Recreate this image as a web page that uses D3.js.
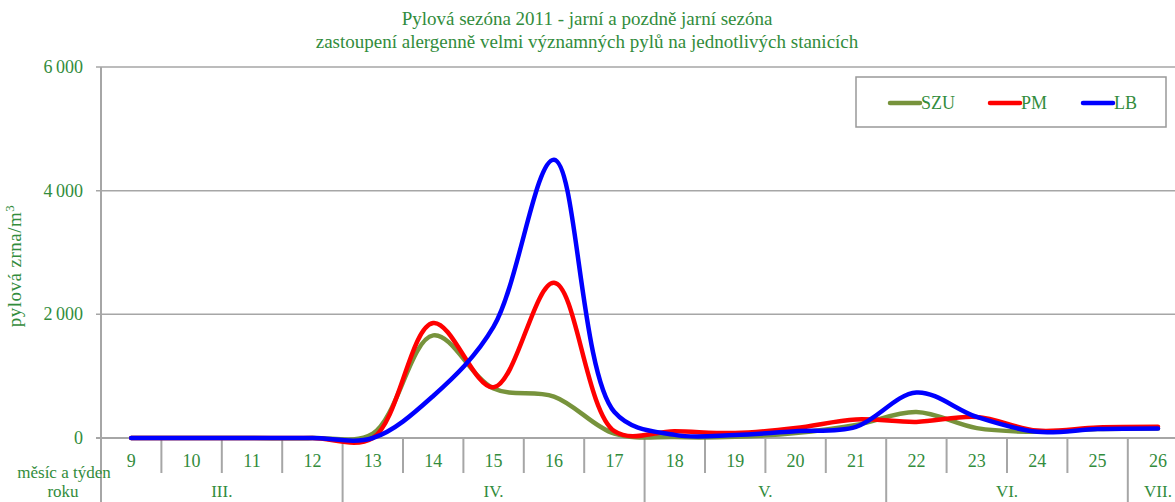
<!DOCTYPE html>
<html>
<head>
<meta charset="utf-8">
<script src="https://cdn.jsdelivr.net/npm/d3@7"></script>
<style>
  body { margin: 0; background: #fff; }
  svg { display: block; }
  text { font-family: "Liberation Serif", "DejaVu Serif", serif; fill: #328c3c; }
</style>
</head>
<body>
<div id="chart"></div>
<script>
// pollen season 2011 - weekly counts per station
const weeks = ['9', '10', '11', '12', '13', '14', '15', '16', '17', '18', '19', '20', '21', '22', '23', '24', '25', '26'];
const months = [
  {name: 'III.', from: '9', to: '12'},
  {name: 'IV.', from: '13', to: '17'},
  {name: 'V.', from: '18', to: '21'},
  {name: 'VI.', from: '22', to: '25'},
  {name: 'VII.', from: '26', to: '26'}
];
const szu = [0, 0, 0, 0, 70, 1660, 800, 670, 70, 15, 20, 80, 210, 420, 160, 100, 145, 155];
const pm = [0, 0, 0, 0, 0, 1860, 820, 2510, 110, 110, 80, 160, 300, 260, 340, 120, 170, 180];
const lb = [0, 0, 0, 0, 0, 680, 1800, 4500, 420, 50, 50, 110, 180, 735, 340, 100, 145, 155];
const yTicks = [0, 2000, 4000, 6000];

const series = [
  {name: 'SZU', values: szu, color: '#77933c'},
  {name: 'PM', values: pm, color: '#ff0000'},
  {name: 'LB', values: lb, color: '#0000ff'}
];

const W = 1175, H = 502;
const plotLeft = 101, plotTop = 67, base = 438, band = 60.4;

const svg = d3.select('#chart').append('svg')
  .attr('width', W)
  .attr('height', H);

let x = d3.scaleBand()
  .domain(weeks)
  .range([plotLeft, plotLeft + band * weeks.length]);

let y = d3.scaleLinear()
  .domain([0, 6000])
  .range([base, plotTop]);

// title
svg.append('text')
  .attr('x', 587).attr('y', 25)
  .attr('text-anchor', 'middle')
  .style('font-size', '19px')
  .text('Pylová sezóna 2011 - jarní a pozdně jarní sezóna');
svg.append('text')
  .attr('x', 587).attr('y', 48)
  .attr('text-anchor', 'middle')
  .style('font-size', '19px')
  .text('zastoupení alergenně velmi významných pylů na jednotlivých stanicích');

// gridlines + y ticks
svg.selectAll('.grid')
  .data(yTicks)
  .enter().append('line')
  .attr('x1', plotLeft - 5).attr('x2', W)
  .attr('y1', d => y(d)).attr('y2', d => y(d))
  .attr('stroke', '#a6a6a6')
  .attr('stroke-width', d => d === 0 ? 2 : 1.5);

svg.selectAll('.ylab')
  .data(yTicks)
  .enter().append('text')
  .attr('x', 83).attr('y', d => y(d) + 6)
  .attr('text-anchor', 'end')
  .style('font-size', '18px')
  .text(d => d3.format(',')(d).replace(',', '\u2009'));

// y axis line
svg.append('line')
  .attr('x1', plotLeft).attr('x2', plotLeft)
  .attr('y1', plotTop).attr('y2', H)
  .attr('stroke', '#a6a6a6').attr('stroke-width', 2);

// axis title
svg.append('text')
  .attr('transform', 'translate(21,266) rotate(-90)')
  .attr('text-anchor', 'middle')
  .style('font-size', '19px')
  .style('letter-spacing', '0.5px')
  .call(t => {
    t.append('tspan').text('pylová zrna/m');
    t.append('tspan').attr('dy', -7).style('font-size', '13px').text('3');
  });

// week separators and month separators
const monthStarts = months.map(m => m.from);
weeks.forEach((w, i) => {
  if (i === 0) return;
  let isMonth = monthStarts.includes(w);
  svg.append('line')
    .attr('x1', x(w)).attr('x2', x(w))
    .attr('y1', base).attr('y2', isMonth ? H : 473)
    .attr('stroke', '#a6a6a6').attr('stroke-width', 2);
});
// closing line after week 26
svg.append('line')
  .attr('x1', x('26') + band).attr('x2', x('26') + band)
  .attr('y1', base).attr('y2', H)
  .attr('stroke', '#a6a6a6').attr('stroke-width', 2);

svg.selectAll('.wlab')
  .data(weeks)
  .enter().append('text')
  .attr('x', d => x(d) + band / 2).attr('y', 467)
  .attr('text-anchor', 'middle')
  .style('font-size', '18px')
  .text(d => d);

svg.selectAll('.mlab')
  .data(months)
  .enter().append('text')
  .attr('x', d => (x(d.from) + x(d.to) + band) / 2).attr('y', 497)
  .attr('text-anchor', 'middle')
  .style('font-size', '17px')
  .text(d => d.name);

svg.append('text')
  .attr('x', 64).attr('y', 478)
  .attr('text-anchor', 'middle')
  .style('font-size', '17px')
  .text('měsíc a týden');
svg.append('text')
  .attr('x', 63).attr('y', 497)
  .attr('text-anchor', 'middle')
  .style('font-size', '17px')
  .text('roku');

// lines
const line = d3.line()
  .x((d, i) => x(weeks[i]) + band / 2)
  .y(d => y(d))
  .curve(d3.curveCatmullRom.alpha(0.5));

svg.selectAll('.series')
  .data(series)
  .enter().append('path')
  .attr('fill', 'none')
  .attr('stroke', d => d.color)
  .attr('stroke-width', 4.5)
  .attr('stroke-linejoin', 'round')
  .attr('stroke-linecap', 'round')
  .attr('d', d => line(d.values));

// legend
const lg = svg.append('g');
lg.append('rect')
  .attr('x', 856).attr('y', 77)
  .attr('width', 310).attr('height', 50)
  .attr('fill', '#fff')
  .attr('stroke', '#999').attr('stroke-width', 1.5);
const lgX = [890, 990, 1083];
series.forEach((s, i) => {
  lg.append('line')
    .attr('x1', lgX[i]).attr('x2', lgX[i] + 30)
    .attr('y1', 103).attr('y2', 103)
    .attr('stroke', s.color).attr('stroke-width', 4.5)
    .attr('stroke-linecap', 'round');
  lg.append('text')
    .attr('x', lgX[i] + 31).attr('y', 109)
    .style('font-size', '18px')
    .text(s.name);
});
</script>
</body>
</html>
